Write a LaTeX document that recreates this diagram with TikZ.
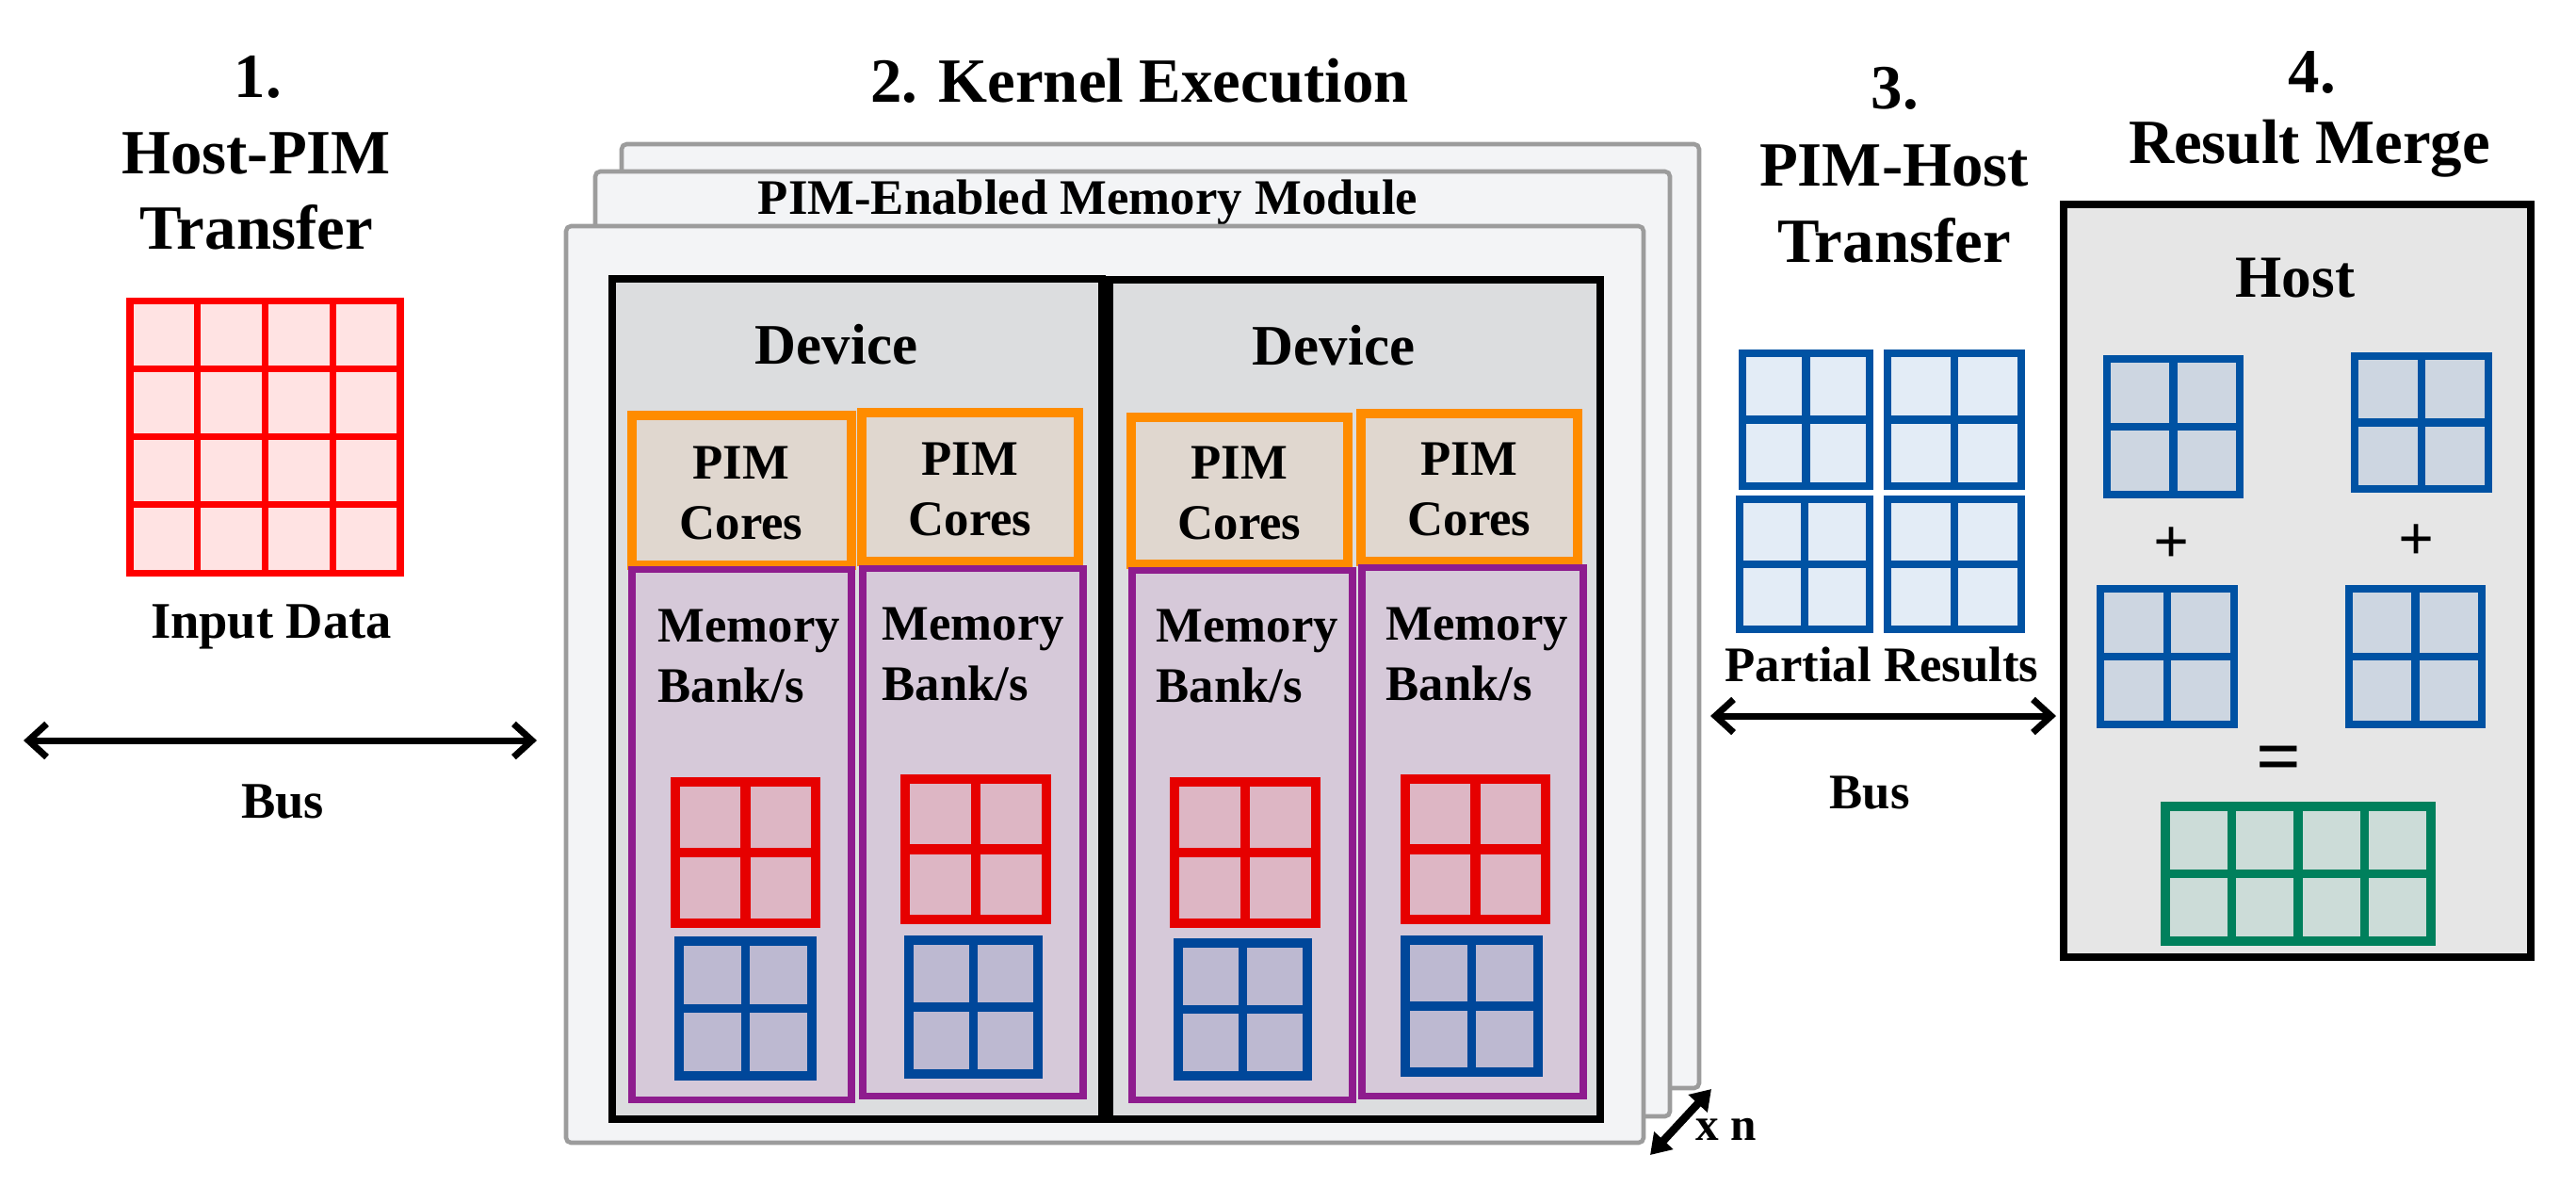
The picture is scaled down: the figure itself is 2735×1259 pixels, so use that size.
\documentclass[tikz,border=0pt]{standalone}
\usepackage{fontspec}
\setmainfont{Liberation Serif}
\usetikzlibrary{arrows.meta}
\definecolor{cardfill}{HTML}{F3F4F6}
\definecolor{cardgray}{HTML}{9C9C9C}
\definecolor{devfill}{HTML}{DCDDDF}
\definecolor{corefill}{HTML}{E0D7CF}
\definecolor{coreorange}{HTML}{FF8C00}
\definecolor{bankfill}{HTML}{D6C9D9}
\definecolor{bankpurple}{HTML}{8E1C8E}
\definecolor{hostfill}{HTML}{E6E6E6}
\definecolor{inred}{HTML}{FF0000}
\definecolor{infill}{HTML}{FFE3E3}
\definecolor{mred}{HTML}{E60000}
\definecolor{mredfill}{HTML}{DDB6C4}
\definecolor{mblue}{HTML}{00479A}
\definecolor{mbluefill}{HTML}{BDB9D1}
\definecolor{pblue}{HTML}{0052A3}
\definecolor{pbluefill}{HTML}{E3ECF6}
\definecolor{hbluefill}{HTML}{CDD6E1}
\definecolor{ggreen}{HTML}{00805C}
\definecolor{gfill}{HTML}{CCDCD8}
\tikzset{
  boxbase/.style={inner sep=0pt, outer sep=0pt, anchor=north west},
  card/.style={draw=cardgray, fill=cardfill, line width=1.3pt, rounded corners=1.5pt},
  devicebox/.style={draw=black, fill=devfill, line width=2.2pt},
  corebox/.style={draw=coreorange, fill=corefill, line width=2.6pt},
  bankbox/.style={draw=bankpurple, fill=bankfill, line width=2pt},
  hostbox/.style={draw=black, fill=hostfill, line width=2.4pt},
  gin/.style={draw=inred, fill=infill, line width=2pt},
  gmred/.style={draw=mred, fill=mredfill, line width=2.9pt},
  gmblue/.style={draw=mblue, fill=mbluefill, line width=2.7pt},
  gpart/.style={draw=pblue, fill=pbluefill, line width=2.5pt},
  ghost/.style={draw=pblue, fill=hbluefill, line width=2.5pt},
  ggrn/.style={draw=ggreen, fill=gfill, line width=2.6pt},
  title/.style={font=\fontsize{19}{22}\selectfont\bfseries, anchor=base, inner sep=0pt},
  lab/.style={font=\fontsize{15}{18}\selectfont\bfseries, anchor=base, inner sep=0pt},
  buslink/.style={{Straight Barb[length=5.5pt,width=10pt,line width=2pt]}-{Straight Barb[length=5.5pt,width=10pt,line width=2pt]}, line width=2pt},
  xnlink/.style={{Triangle[length=6pt,width=7.5pt]}-{Triangle[length=6pt,width=7.5pt]}, line width=2.4pt}
}
% box node: name, x1, y1, x2, y2, style
\newcommand{\boxnode}[6]{%
  \node[boxbase, #6, minimum width={(#4-#2)*0.01cm}, minimum height={(#5-#3)*0.01cm}] (#1) at (#2,#3) {};%
}
% grid: x1 y1 x2 y2 cols rows style
\newcommand{\mgrid}[7]{%
  \draw[#7] (#1,#2) rectangle (#3,#4);%
  \pgfmathtruncatemacro{\mgc}{#5-1}%
  \pgfmathtruncatemacro{\mgr}{#6-1}%
  \foreach \mgi in {1,...,\mgc}{\draw[#7,fill=none] ({#1+\mgi*(#3-#1)/#5},#2) -- ({#1+\mgi*(#3-#1)/#5},#4);}%
  \foreach \mgi in {1,...,\mgr}{\draw[#7,fill=none] (#1,{#2+\mgi*(#4-#2)/#6}) -- (#3,{#2+\mgi*(#4-#2)/#6});}%
}
\begin{document}
\begin{tikzpicture}[x=0.01cm, y=-0.01cm]
\useasboundingbox (0,0) rectangle (2735,1259);

% ---------- 1. Host-PIM Transfer ----------
\node[title] (t1a) at (274,103) {1.};
\node[title] (t1b) at (272,184) {Host-PIM};
\node[title] (t1c) at (272,264) {Transfer};
\mgrid{138}{319}{425}{608}{4}{4}{gin}
\node[lab, font=\fontsize{15.5}{18}\selectfont\bfseries] (indata) at (288,677) {Input Data};
\coordinate (bus1l) at (25,786);
\coordinate (bus1r) at (570,786);
\draw[buslink] (bus1l) -- (bus1r);
\node[lab, font=\fontsize{15.5}{18}\selectfont\bfseries] (bus1lab) at (300,868) {Bus};

% ---------- 2. Kernel Execution ----------
\node[title] (t2) at (1210,108) {2. Kernel Execution};
\boxnode{cardback}{660}{153}{1804}{1155}{card}
\boxnode{cardmid}{632}{182}{1773}{1185}{card}
\node[lab] (modlab) at (1155,227) {PIM-Enabled Memory Module};
\boxnode{cardfront}{601}{240}{1745}{1213}{card}

\boxnode{dev1}{650}{296}{1170}{1188}{devicebox}
\boxnode{dev2}{1178}{297}{1699}{1188}{devicebox}
\node[lab, font=\fontsize{17.3}{20}\selectfont\bfseries] (dev1lab) at (888,386) {Device};
\node[lab, font=\fontsize{17.3}{20}\selectfont\bfseries] (dev2lab) at (1416,387) {Device};

\boxnode{core1}{671}{441}{904}{600}{corebox}
\boxnode{core2}{915}{438}{1145}{596}{corebox}
\boxnode{core3}{1201}{443}{1431}{599}{corebox}
\boxnode{core4}{1445}{439}{1675}{596}{corebox}
\foreach \cx/\py/\cy [count=\k] in {787/508/572, 1030/504/568, 1316/508/572, 1560/504/568}{
  \node[lab] (pim\k) at (\cx,\py) {PIM};
  \node[lab] (cores\k) at (\cx,\cy) {Cores};
}

\boxnode{bank1}{671}{604}{904}{1167}{bankbox}
\boxnode{bank2}{916}{603}{1150}{1163}{bankbox}
\boxnode{bank3}{1202}{605}{1436}{1167}{bankbox}
\boxnode{bank4}{1446}{602}{1681}{1163}{bankbox}
\foreach \bx/\my/\by [count=\k] in {698/681/745, 936/679/743, 1227/681/745, 1471/679/743}{
  \node[lab, anchor=base west] (mem\k) at (\bx,\my) {Memory};
  \node[lab, anchor=base west] (bk\k) at (\bx,\by) {Bank/s};
}

\mgrid{717}{830}{866}{980}{2}{2}{gmred}
\mgrid{961}{827}{1111}{976}{2}{2}{gmred}
\mgrid{1247}{830}{1397}{980}{2}{2}{gmred}
\mgrid{1492}{827}{1641}{976}{2}{2}{gmred}
\mgrid{721}{999}{862}{1142}{2}{2}{gmblue}
\mgrid{965}{998}{1102}{1140}{2}{2}{gmblue}
\mgrid{1251}{1001}{1388}{1142}{2}{2}{gmblue}
\mgrid{1492}{998}{1633}{1138}{2}{2}{gmblue}

\coordinate (xna) at (1752,1226);
\coordinate (xnb) at (1817,1156);
\draw[xnlink] (xna) -- (xnb);
\node[font=\fontsize{14}{16}\selectfont\bfseries, anchor=base, inner sep=0pt] (xnlab) at (1833,1210) {x n};

% ---------- 3. PIM-Host Transfer ----------
\node[title] (t3a) at (2012,115) {3.};
\node[title] (t3b) at (2011,197) {PIM-Host};
\node[title] (t3c) at (2011,278) {Transfer};
\mgrid{1850}{375}{1985}{516}{2}{2}{gpart}
\mgrid{2004}{375}{2146}{516}{2}{2}{gpart}
\mgrid{1847}{530}{1985}{668}{2}{2}{gpart}
\mgrid{2004}{530}{2146}{668}{2}{2}{gpart}
\node[lab] (partial) at (1998,723) {Partial Results};
\coordinate (bus2l) at (1816,760);
\coordinate (bus2r) at (2183,760);
\draw[buslink] (bus2l) -- (bus2r);
\node[lab] (bus2lab) at (1985,858) {Bus};

% ---------- 4. Result Merge ----------
\node[title] (t4a) at (2455,98) {4.};
\node[title] (t4b) at (2452,173) {Result Merge};
\boxnode{host}{2191}{217}{2687}{1016}{hostbox}
\node[lab, font=\fontsize{18}{20}\selectfont\bfseries] (hostlab) at (2437,315) {Host};
\mgrid{2237}{381}{2378}{525}{2}{2}{ghost}
\mgrid{2500}{378}{2642}{519}{2}{2}{ghost}
\mgrid{2230}{625}{2372}{769}{2}{2}{ghost}
\mgrid{2494}{625}{2635}{769}{2}{2}{ghost}
\node[lab, anchor=center, font=\fontsize{19}{22}\selectfont\bfseries] (plus1) at (2306,579) {+};
\node[lab, anchor=center, font=\fontsize{19}{22}\selectfont\bfseries] (plus2) at (2566,576) {+};
\node[lab, anchor=center, font=\fontsize{24}{26}\selectfont\bfseries] (eqs) at (2420,812) {=};
\mgrid{2299}{856}{2581}{999}{4}{2}{ggrn}
\end{tikzpicture}
\end{document}
